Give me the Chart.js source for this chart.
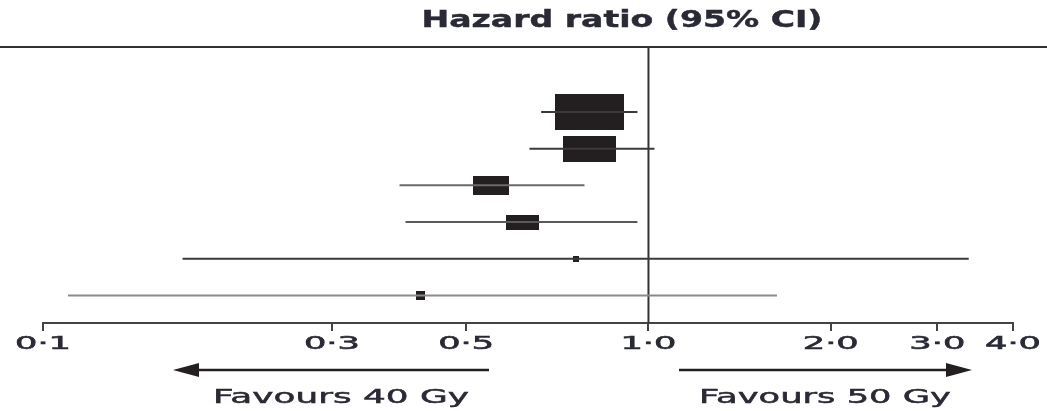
<!DOCTYPE html>
<html>
<head>
<meta charset="utf-8">
<script src="https://cdn.jsdelivr.net/npm/chart.js@4/dist/chart.umd.min.js"></script>
<style>
  html, body { margin: 0; padding: 0; background: #fff; }
  #wrap { width: 1047px; height: 411px; }
</style>
</head>
<body>
<div id="wrap"><canvas id="myChart" width="1047" height="411"></canvas></div>
<script>
// Forest plot data (hazard ratios)
const rows = [1, 2, 3, 4, 5, 6];
const hazardRatio = [0.80, 0.80, 0.55, 0.62, 0.76, 0.42];
const ciLower = [0.665, 0.636, 0.388, 0.397, 0.170, 0.110];
const ciUpper = [0.959, 1.023, 0.784, 0.959, 3.38, 1.63];
const tickValues = [0.1, 0.3, 0.5, 1, 2, 3, 4];
const refValue = 1;

// box sizes (style only: pixel width/height of each square)
const boxW = [69, 53, 36, 33, 6, 9];
const boxH = [36, 26, 19, 15, 6, 9];
const ciColors = ['#3a3a3a', '#3a3a3a', '#6a6a6a', '#5a5a5a', '#3a3a3a', '#8a8a8a'];

const ink = '#231f20';
const textColor = '#2a2a36';

function makeBox(w, h) {
    const c = document.createElement('canvas');
    c.width = w;
    c.height = h;
    const g = c.getContext('2d');
    g.fillStyle = ink;
    g.fillRect(0, 0, w, h);
    return c;
}
const boxes = rows.map((r, i) => makeBox(boxW[i], boxH[i]));

// draw text stretched horizontally to a given width (with a light stroke for weight)
function stretchedText(ctx, text, cx, cy, width, font, weight) {
    ctx.save();
    ctx.font = font;
    const m = ctx.measureText(text).width;
    ctx.translate(cx, cy);
    ctx.scale(width / m, 1);
    ctx.textAlign = 'center';
    ctx.textBaseline = 'middle';
    ctx.fillStyle = textColor;
    ctx.fillText(text, 0, 0);
    if (weight) {
        ctx.strokeStyle = textColor;
        ctx.lineWidth = weight;
        ctx.strokeText(text, 0, 0);
    }
    ctx.restore();
}

function arrow(ctx, x1, x2, y) {
    const dir = x2 > x1 ? 1 : -1;
    ctx.save();
    ctx.strokeStyle = ink;
    ctx.fillStyle = ink;
    ctx.lineWidth = 2.5;
    ctx.beginPath();
    ctx.moveTo(x1, y);
    ctx.lineTo(x2 - dir * 20, y);
    ctx.stroke();
    ctx.beginPath();
    ctx.moveTo(x2, y);
    ctx.lineTo(x2 - dir * 26, y - 7);
    ctx.lineTo(x2 - dir * 26, y + 7);
    ctx.closePath();
    ctx.fill();
    ctx.restore();
}

const decorations = {
    id: 'decorations',
    afterDraw(chart) {
        const ctx = chart.ctx;
        const area = chart.chartArea;
        const xs = chart.scales.x;
        // title and rule above the plot
        stretchedText(ctx, 'Hazard ratio (95% CI)', 622, 21, 401, 'bold 23px "DejaVu Sans"', 0.4);
        ctx.save();
        ctx.strokeStyle = '#333';
        ctx.lineWidth = 2;
        ctx.beginPath();
        ctx.moveTo(0, area.top);
        ctx.lineTo(chart.width, area.top);
        ctx.stroke();
        ctx.restore();
        // tick labels with middle dot
        tickValues.forEach(v => {
            const label = v.toFixed(1).replace('.', '·');
            stretchedText(ctx, label, xs.getPixelForValue(v), area.bottom + 21, 56, '18px "DejaVu Sans"', 0.6);
        });
        // direction arrows
        arrow(ctx, 489, 173, 370);
        arrow(ctx, 679, 972, 370);
        stretchedText(ctx, 'Favours 40 Gy', 341, 398, 256, '20px "DejaVu Sans"', 0.5);
        stretchedText(ctx, 'Favours 50 Gy', 825, 398, 252, '20px "DejaVu Sans"', 0.5);
    }
};

const yMin = -0.77;
const yMax = 6.75;

const datasets = [];
// confidence interval lines
rows.forEach((r, i) => {
    datasets.push({
        type: 'line',
        data: [{x: ciLower[i], y: r}, {x: ciUpper[i], y: r}],
        borderColor: ciColors[i],
        borderWidth: 2,
        pointRadius: 0,
        clip: false
    });
});
// reference line at HR = 1
datasets.push({
    type: 'line',
    data: [{x: refValue, y: yMin}, {x: refValue, y: yMax}],
    borderColor: '#333',
    borderWidth: 2,
    pointRadius: 0,
    clip: false
});
// point estimates as boxes
datasets.push({
    type: 'scatter',
    data: rows.map((r, i) => ({x: hazardRatio[i], y: r})),
    pointStyle: ctx => boxes[ctx.dataIndex],
    pointRadius: 5,
    clip: false
});

const chart = new Chart(document.getElementById('myChart').getContext('2d'), {
    type: 'scatter',
    data: { datasets: datasets },
    options: {
        responsive: false,
        animation: false,
        events: [],
        layout: { padding: { left: 43, right: 34, top: 47, bottom: 0 } },
        plugins: { legend: { display: false }, tooltip: { enabled: false } },
        scales: {
            x: {
                type: 'logarithmic',
                min: 0.1,
                max: 4,
                afterBuildTicks: scale => {
                    scale.ticks = tickValues.map(v => ({ value: v }));
                },
                afterFit: scale => { scale.height = 88; },
                ticks: { display: false },
                grid: {
                    drawOnChartArea: false,
                    drawTicks: true,
                    tickLength: 8,
                    color: '#444',
                    lineWidth: 2
                },
                border: { display: true, color: '#444', width: 2 }
            },
            y: {
                type: 'linear',
                display: false,
                reverse: true,
                min: yMin,
                max: yMax
            }
        }
    },
    plugins: [decorations]
});
</script>
</body>
</html>
